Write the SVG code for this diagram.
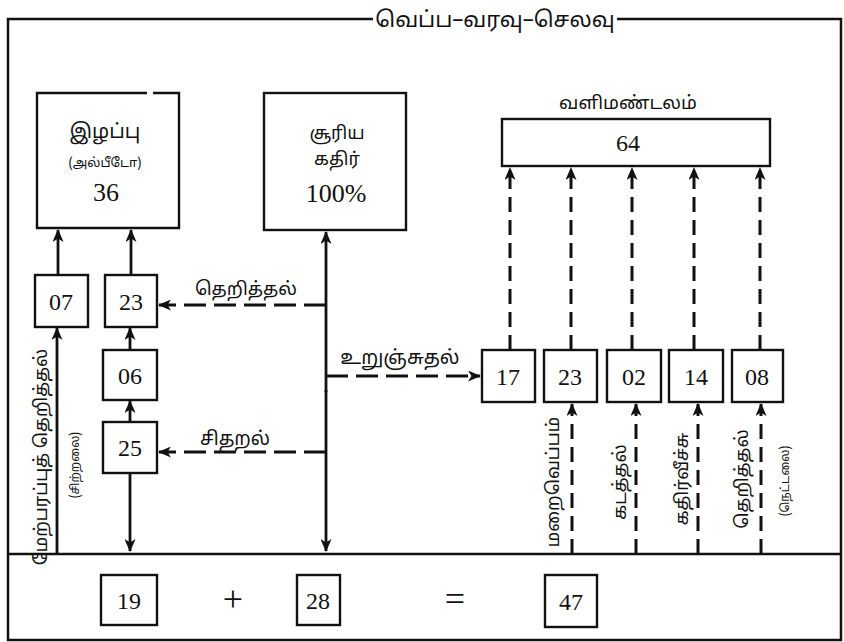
<svg xmlns="http://www.w3.org/2000/svg" width="844" height="642" viewBox="0 0 844 642">
<style>
.frame{fill:none;stroke:#111;stroke-width:2.5}
.box{fill:#fff;stroke:#111;stroke-width:2.4}
.solid{fill:none;stroke:#111;stroke-width:2.8}
.dh{fill:none;stroke:#111;stroke-width:3;stroke-dasharray:22 8}
.dv{fill:none;stroke:#111;stroke-width:3;stroke-dasharray:15 8}
.ta{font-family:"Noto Sans Tamil","Noto Sans","Lohit Tamil",sans-serif;fill:#111;text-anchor:middle}
.num{font-family:"Liberation Serif",serif;fill:#111;text-anchor:middle}
</style>
<defs>
<marker id="ah" viewBox="0 0 13 11" refX="12" refY="5.5" markerWidth="13" markerHeight="11" markerUnits="userSpaceOnUse" orient="auto">
<path d="M0,0 L13,5.5 L0,11 L3.5,5.5 z" fill="#111"/>
</marker>
</defs>
<rect width="844" height="642" fill="#fff"/>
<g id="frame">
<path class="frame" d="M373,19 H8 V640 H841 V19 H617"/>
<line class="frame" x1="8" y1="554" x2="841" y2="554"/>
<text class="ta" x="495" y="27" font-size="22">வெப்ப–வரவு–செலவு</text>
</g>
<g id="connectors">
<line class="solid" x1="58" y1="275" x2="58" y2="230" marker-end="url(#ah)"/>
<line class="solid" x1="131" y1="275" x2="131" y2="230" marker-end="url(#ah)"/>
<line class="solid" x1="130" y1="350" x2="130" y2="328" marker-end="url(#ah)"/>
<line class="solid" x1="130" y1="422" x2="130" y2="401" marker-end="url(#ah)"/>
<line class="solid" x1="130" y1="473" x2="130" y2="551" marker-end="url(#ah)"/>
<line class="solid" x1="57" y1="554" x2="57" y2="328" marker-end="url(#ah)"/>
<line class="solid" x1="326" y1="392" x2="326" y2="232" marker-end="url(#ah)"/>
<line class="solid" x1="326" y1="390" x2="326" y2="551" marker-end="url(#ah)"/>
<line class="dh" x1="326" y1="305" x2="159" y2="305" marker-end="url(#ah)"/>
<line class="dh" x1="326" y1="452" x2="159" y2="452" marker-end="url(#ah)"/>
<line class="dh" x1="326" y1="376" x2="480" y2="376" marker-end="url(#ah)"/>
<line class="dv" x1="510" y1="350" x2="510" y2="168" marker-end="url(#ah)"/>
<line class="dv" x1="571" y1="350" x2="571" y2="168" marker-end="url(#ah)"/>
<line class="dv" x1="632" y1="350" x2="632" y2="168" marker-end="url(#ah)"/>
<line class="dv" x1="694" y1="350" x2="694" y2="168" marker-end="url(#ah)"/>
<line class="dv" x1="760" y1="350" x2="760" y2="168" marker-end="url(#ah)"/>
<line class="dv" x1="572" y1="554" x2="572" y2="404" marker-end="url(#ah)"/>
<line class="dv" x1="636" y1="554" x2="636" y2="404" marker-end="url(#ah)"/>
<line class="dv" x1="698" y1="554" x2="698" y2="404" marker-end="url(#ah)"/>
<line class="dv" x1="761" y1="554" x2="761" y2="404" marker-end="url(#ah)"/>
<text class="ta" x="246" y="295" font-size="18.5">தெறித்தல்</text>
<text class="ta" x="235" y="445" font-size="19">சிதறல்</text>
<text class="ta" x="400" y="364" font-size="19.5">உறுஞ்சுதல்</text>
<text class="ta" font-size="18" transform="translate(47,457) rotate(-90)">மேற்பரப்புத் தெறித்தல்</text>
<text class="ta" font-size="12" transform="translate(79,465) rotate(-90)">(சிற்றலை)</text>
<text class="ta" font-size="18" transform="translate(559,482) rotate(-90)">மறைவெப்பம்</text>
<text class="ta" font-size="18" transform="translate(626,482) rotate(-90)">கடத்தல்</text>
<text class="ta" font-size="18" transform="translate(688,479) rotate(-90)">கதிர்வீச்சு</text>
<text class="ta" font-size="18" transform="translate(748,479) rotate(-90)">தெறித்தல்</text>
<text class="ta" font-size="12" transform="translate(789,481) rotate(-90)">(நெட்டலை)</text>
</g>
<g id="albedo">
<path class="box" d="M147,93 H37 V228 H179 V93 H153"/>
<text class="ta" x="105" y="138" font-size="20">இழப்பு</text>
<text class="ta" x="105" y="167" font-size="13">(அல்பீடோ)</text>
<text class="num" x="106" y="201" font-size="26">36</text>
</g>
<g id="sun">
<rect class="box" x="264" y="93" width="142" height="137"/>
<text class="ta" x="337" y="139" font-size="18">சூரிய</text>
<text class="ta" x="337" y="165" font-size="18">கதிர்</text>
<text class="num" x="336" y="202" font-size="26">100%</text>
</g>
<g id="atmosphere">
<text class="ta" x="628" y="109" font-size="18.5">வளிமண்டலம்</text>
<rect class="box" x="502" y="119" width="268" height="47"/>
<text class="num" x="628" y="151" font-size="24">64</text>
</g>
<g id="b07"><rect class="box" x="35" y="275" width="53" height="52"/><text class="num" x="61" y="310" font-size="24">07</text></g>
<g id="b23a"><rect class="box" x="105" y="275" width="52" height="52"/><text class="num" x="131" y="310" font-size="24">23</text></g>
<g id="b06"><rect class="box" x="103" y="350" width="54" height="50"/><text class="num" x="130" y="384" font-size="24">06</text></g>
<g id="b25"><rect class="box" x="103" y="422" width="54" height="51"/><text class="num" x="130" y="456" font-size="24">25</text></g>
<g id="b17"><rect class="box" x="482" y="350" width="53" height="52"/><text class="num" x="508" y="385" font-size="24">17</text></g>
<g id="b23b"><rect class="box" x="544" y="350" width="53" height="52"/><text class="num" x="570" y="385" font-size="24">23</text></g>
<g id="b02"><rect class="box" x="607" y="350" width="54" height="52"/><text class="num" x="634" y="385" font-size="24">02</text></g>
<g id="b14"><rect class="box" x="669" y="350" width="54" height="52"/><text class="num" x="696" y="385" font-size="24">14</text></g>
<g id="b08"><rect class="box" x="732" y="350" width="51" height="52"/><text class="num" x="757" y="385" font-size="24">08</text></g>
<g id="b19"><rect class="box" x="101" y="575" width="56" height="50"/><text class="num" x="129" y="609" font-size="24">19</text></g>
<text class="num" x="233" y="611" font-size="36">+</text>
<g id="b28"><rect class="box" x="297" y="575" width="43" height="50"/><text class="num" x="318" y="609" font-size="24">28</text></g>
<text class="num" x="455" y="611" font-size="36">=</text>
<g id="b47"><rect class="box" x="545" y="575" width="52" height="52"/><text class="num" x="571" y="610" font-size="24">47</text></g>
</svg>
